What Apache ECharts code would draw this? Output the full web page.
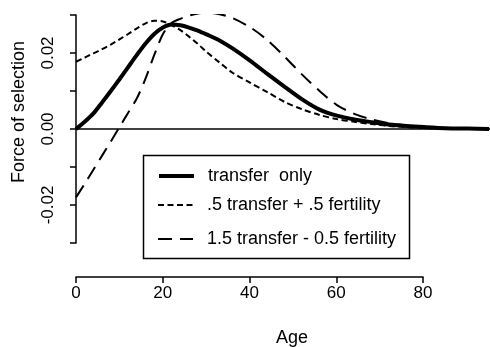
<!DOCTYPE html>
<html>
<head>
<meta charset="utf-8">
<script src="https://cdn.jsdelivr.net/npm/echarts@6/dist/echarts.min.js"></script>
<style>
html,body{margin:0;padding:0;background:#fff;}
#chart{width:490px;height:347px;}
</style>
</head>
<body>
<div id="chart"></div>
<script>
// ---- data ----
const ages = [0,2,4,6,8,10,12,14,16,18,20,22,24,26,28,30,33,36,40,44,48,52,56,60,64,68,72,76,80,85,90,95];
const transferOnly = [0,0.0019,0.0041,0.0070,0.0100,0.0131,0.0163,0.0195,0.0225,0.0250,0.0267,0.0275,0.0273,0.0267,0.0259,0.0249,0.0233,0.0212,0.0180,0.0145,0.0111,0.0078,0.0051,0.0035,0.0025,0.0018,0.0012,0.0008,0.0005,0.0002,0.0001,0];
const halfTransferHalfFertility = [0.0177,0.0188,0.0199,0.0210,0.0222,0.0236,0.0250,0.0265,0.0278,0.0285,0.0283,0.0273,0.0260,0.0243,0.0224,0.0203,0.0175,0.0148,0.0122,0.0097,0.0071,0.0052,0.0037,0.0026,0.0019,0.0013,0.0008,0.0005,0.0003,0.0001,0,0];
const onePointFiveTransfer = [-0.0180,-0.0144,-0.0107,-0.0070,-0.0033,0.0005,0.0043,0.0081,0.0133,0.0195,0.0250,0.0279,0.0290,0.0298,0.0304,0.0306,0.0302,0.0292,0.0268,0.0234,0.0190,0.0143,0.0100,0.0063,0.0040,0.0025,0.0015,0.0009,0.0005,0.0002,0.0001,0];
const seriesNames = ['transfer  only', '.5 transfer + .5 fertility', '1.5 transfer - 0.5 fertility'];
const zeroLineAges = [0, 96];
const xTickValues = [0, 20, 40, 60, 80];
const yLabelValues = [-0.02, 0, 0.02];
const xTitle = 'Age';
const yTitle = 'Force of selection';

const pair = (vals) => ages.map((a, i) => [a, vals[i]]);
const FONT = 'Liberation Sans, Arial, sans-serif';

const lineStyles = [
  {color: '#000', width: 4, type: 'solid'},
  {color: '#000', width: 2, type: [6, 3.5]},
  {color: '#000', width: 2, type: [14, 8]}
];

const chart = echarts.init(document.getElementById('chart'), null, {renderer: 'canvas'});
const legendRowTops = [167, 196, 230];
const legends = seriesNames.map((n, i) => ({
  data: [n],
  left: 157,
  top: legendRowTops[i],
  itemWidth: 35,
  itemHeight: 14,
  padding: 0,
  selectedMode: false,
  itemStyle: {opacity: 0},
  lineStyle: Object.assign({}, lineStyles[i], {cap: 'butt'}),
  textStyle: {fontFamily: FONT, fontSize: 18, color: '#000', padding: [0, 0, 0, 9]}
}));

chart.setOption({
  animation: false,
  backgroundColor: '#fff',
  grid: [
    {left: 68, top: 15, width: 422, height: 228},
    {left: 76, top: 276, width: 347, height: 1}
  ],
  xAxis: [
    {gridIndex: 0, type: 'value', min: -1.84, max: 95.2, show: false},
    {gridIndex: 1, type: 'value', min: 0, max: 80, interval: 20,
     axisLine: {show: true, onZero: false, lineStyle: {color: '#000', width: 1.5}},
     axisTick: {show: true, length: 6, lineStyle: {color: '#000', width: 1.5}},
     axisLabel: {margin: 8, fontFamily: FONT, fontSize: 17, color: '#000',
       formatter: v => xTickValues.includes(v) ? String(v) : ''},
     splitLine: {show: false}}
  ],
  yAxis: [
    {gridIndex: 0, type: 'value', min: -0.03, max: 0.03, interval: 0.01,
     axisLine: {show: true, lineStyle: {color: '#000', width: 1.5}},
     axisTick: {show: true, length: 6, lineStyle: {color: '#000', width: 1.5}},
     axisLabel: {rotate: 90, margin: 11, fontFamily: FONT, fontSize: 17, color: '#000',
       formatter: v => yLabelValues.some(t => Math.abs(t - v) < 1e-6) ? v.toFixed(2) : ''},
     splitLine: {show: false}},
    {gridIndex: 1, type: 'value', show: false}
  ],
  legend: legends,
  graphic: [
    {type: 'rect', shape: {x: 143.5, y: 155.5, width: 266, height: 103}, style: {fill: 'none', stroke: '#000', lineWidth: 1.5}, z: 10},
    {type: 'text', x: 292, y: 338, style: {text: xTitle, fontFamily: FONT, fontSize: 18, fill: '#000', textAlign: 'center', textVerticalAlign: 'middle'}},
    {type: 'text', x: 19, y: 112, rotation: Math.PI / 2, style: {text: yTitle, fontFamily: FONT, fontSize: 18, fill: '#000', textAlign: 'center', textVerticalAlign: 'middle'}}
  ],
  series: [
    {name: 'zero', type: 'line', xAxisIndex: 0, yAxisIndex: 0, data: zeroLineAges.map(a => [a, 0]),
     symbol: 'none', lineStyle: {color: '#000', width: 1.5}, silent: true},
    {name: seriesNames[0], type: 'line', xAxisIndex: 0, yAxisIndex: 0, data: pair(transferOnly),
     smooth: 0.3, symbol: 'none', color: '#000', lineStyle: lineStyles[0]},
    {name: seriesNames[1], type: 'line', xAxisIndex: 0, yAxisIndex: 0, data: pair(halfTransferHalfFertility),
     smooth: 0.3, symbol: 'none', color: '#000', lineStyle: lineStyles[1]},
    {name: seriesNames[2], type: 'line', xAxisIndex: 0, yAxisIndex: 0, data: pair(onePointFiveTransfer),
     smooth: 0.3, symbol: 'none', color: '#000', lineStyle: lineStyles[2]}
  ]
});
</script>
</body>
</html>
